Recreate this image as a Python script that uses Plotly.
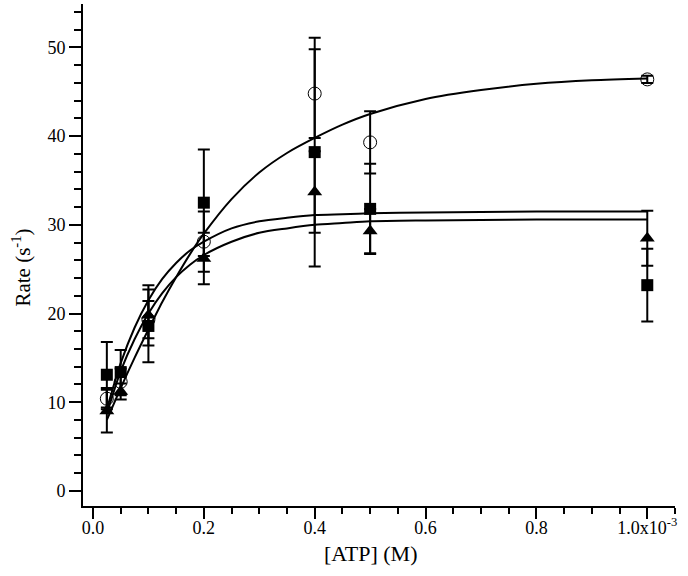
import plotly.graph_objects as go

# ATP concentrations (M)
atp = [0.025e-3, 0.05e-3, 0.1e-3, 0.2e-3, 0.4e-3, 0.5e-3, 1.0e-3]

# Measured rates (s^-1) and errors
circle_rate = [10.4, 12.3, 19.3, 28.1, 44.8, 39.3, 46.4]
circle_err = [1.2, 1.5, 2.1, 3.4, 5.0, 3.5, 0.4]
square_rate = [13.1, 13.4, 18.6, 32.5, 38.2, 31.8, 23.2]
square_err = [3.7, 2.5, 4.1, 6.0, 12.9, 5.1, 4.1]
triangle_rate = [9.0, 11.2, 19.8, 26.2, 33.7, 29.3, 28.5]
triangle_err = [2.4, 0.9, 3.4, 2.9, 4.6, 2.5, 3.1]

# Fitted curves
fit_x = [0.025e-3, 0.05e-3, 0.075e-3, 0.1e-3, 0.125e-3, 0.15e-3, 0.175e-3, 0.2e-3,
         0.25e-3, 0.3e-3, 0.35e-3, 0.4e-3, 0.45e-3, 0.5e-3, 0.6e-3, 0.7e-3,
         0.8e-3, 0.9e-3, 1.0e-3]
circle_fit = [8.0, 11.6, 15.0, 18.2, 21.3, 24.1, 26.7, 29.0,
              32.9, 35.9, 38.1, 39.8, 41.3, 42.5, 44.2, 45.2,
              45.9, 46.3, 46.5]
square_fit = [9.2, 14.4, 18.4, 21.5, 23.9, 25.7, 27.1, 28.1,
              29.6, 30.4, 30.8, 31.1, 31.2, 31.3, 31.4, 31.45,
              31.5, 31.5, 31.5]
triangle_fit = [8.7, 13.5, 17.1, 20.0, 22.3, 24.1, 25.5, 26.6,
                28.1, 29.1, 29.6, 30.0, 30.2, 30.4, 30.5, 30.55,
                30.6, 30.6, 30.6]

x_tickvals = [0, 0.2e-3, 0.4e-3, 0.6e-3, 0.8e-3, 1.0e-3]
x_ticktext = ["0.0", "0.2", "0.4", "0.6", "0.8", "1.0x10<sup>-3</sup>"]
y_tickvals = [0, 10, 20, 30, 40, 50]

fig = go.Figure()

for yfit in (circle_fit, square_fit, triangle_fit):
    fig.add_trace(go.Scatter(x=fit_x, y=yfit, mode="lines",
                             line=dict(color="black", width=2, shape="spline", smoothing=0.8),
                             hoverinfo="skip", showlegend=False))

eb = dict(type="data", color="black", thickness=2, width=6)

fig.add_trace(go.Scatter(x=atp, y=circle_rate, mode="markers",
                         marker=dict(symbol="circle-open", size=13, color="black",
                                     line=dict(width=1, color="black")),
                         error_y=dict(array=circle_err, **eb), showlegend=False))
fig.add_trace(go.Scatter(x=atp, y=square_rate, mode="markers",
                         marker=dict(symbol="square", size=12, color="black"),
                         error_y=dict(array=square_err, **eb), showlegend=False))
fig.add_trace(go.Scatter(x=atp, y=triangle_rate, mode="markers",
                         marker=dict(symbol="triangle-up", size=13, color="black"),
                         error_y=dict(array=triangle_err, **eb), showlegend=False))

serif = "Times New Roman, Liberation Serif, serif"
tickfont = dict(family=serif, size=18, color="black")

fig.update_layout(
    width=688, height=576,
    margin=dict(l=83, r=13, t=4, b=70),
    paper_bgcolor="white", plot_bgcolor="white",
    font=dict(family=serif, size=18, color="black"),
    xaxis=dict(
        automargin=False,
        range=[-0.018e-3, 1.05e-3],
        tickmode="array", tickvals=x_tickvals, ticktext=x_ticktext,
        tickfont=tickfont, ticklabelstandoff=-7,
        ticks="outside", ticklen=11, tickwidth=2, tickcolor="black",
        minor=dict(dtick=0.05e-3, tick0=0, ticks="outside", ticklen=6, tickwidth=2, tickcolor="black"),
        showline=True, linecolor="black", linewidth=2,
        showgrid=False, zeroline=False,
    ),
    yaxis=dict(
        automargin=False,
        range=[-1.7, 54.9],
        tickmode="array", tickvals=y_tickvals,
        tickfont=tickfont,
        ticks="outside", ticklen=12, tickwidth=2, tickcolor="black",
        minor=dict(dtick=2, tick0=0, ticks="outside", ticklen=7, tickwidth=2, tickcolor="black"),
        showline=True, linecolor="black", linewidth=2,
        showgrid=False, zeroline=False,
    ),
    annotations=[
        dict(text="[ATP] (M)", xref="paper", yref="paper", x=0.487, y=-0.094,
             xanchor="center", yanchor="middle", showarrow=False,
             font=dict(family=serif, size=22, color="black")),
        dict(text="Rate (s<sup>-1</sup>)", xref="paper", yref="paper", x=-0.103, y=0.475,
             xanchor="center", yanchor="middle", showarrow=False, textangle=-90,
             font=dict(family=serif, size=21, color="black")),
    ],
)

fig.write_html("out.html", config={"displayModeBar": False},
               post_script="document.body.style.margin='0';")
